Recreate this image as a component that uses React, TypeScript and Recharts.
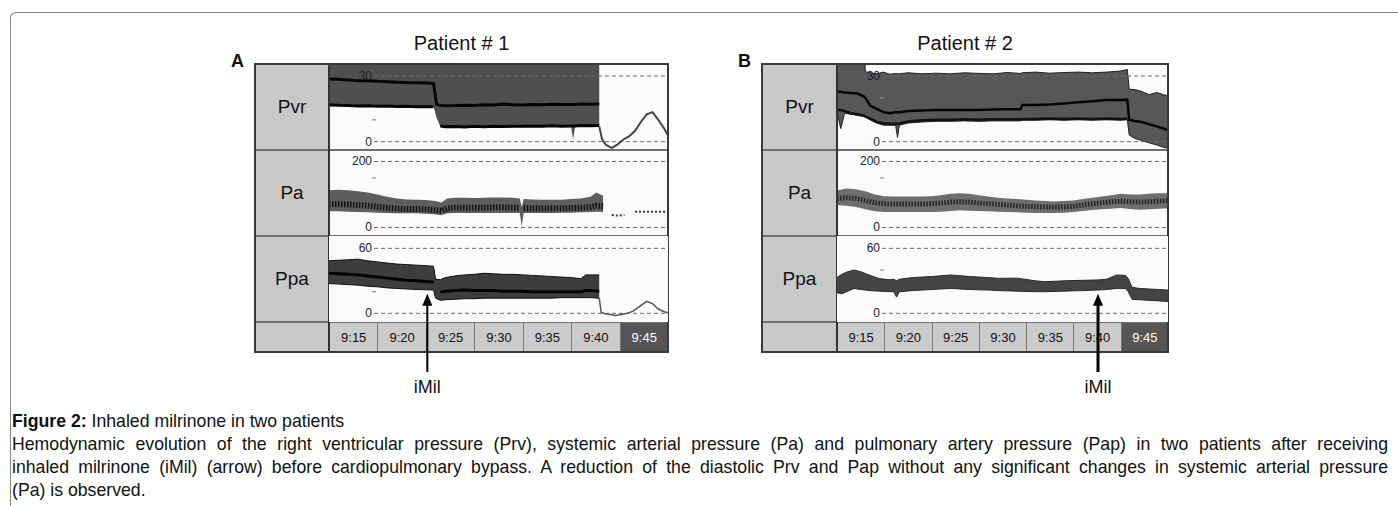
import React from 'react';
import { ComposedChart, Area, Line, XAxis, YAxis, ReferenceLine } from 'recharts';

const timeLabels = ['9:15', '9:20', '9:25', '9:30', '9:35', '9:40', '9:45'];
const channelNames = ['Pvr', 'Pa', 'Ppa'];

// axis ranges (mmHg) and tick values: [0, minor dash, top]
const pvrDomain = [-3.8, 35.5];
const paDomain = [-25.8, 234.8];
const ppaDomain = [-8, 71.4];
const pvrTicksA = [0, 10, 30];
const pvrTicksB = [0, 20, 30];
const paTicks = [0, 150, 200];
const ppaTicksA = [0, 20, 60];
const ppaTicksB = [0, 40, 60];

// minutes from start of the 9:15 block
const iMilA = 10.15;
const iMilB = 27.6;

// ---------- Patient 1 ----------
const p1PvrT = [0, 1, 2, 3, 4, 5, 6, 7, 8, 9, 10, 10.8, 11.1, 11.5, 12, 13, 14, 15, 16, 17, 18, 19, 20, 21, 22, 23, 24, 25, 25.2, 25.4, 26, 27, 27.9, 28.2, 28.6, 29.2, 29.8, 30.4, 31, 31.6, 32.2, 32.8, 33.4, 34, 34.6, 35];
const N13 = [null, null, null, null, null, null, null, null, null, null, null, null, null];
const p1PvrTop = [40, 40, 40, 40, 40, 40, 40, 40, 40, 40, 40, 40, 40, 40, 40, 40, 40, 40, 40, 40, 40, 40, 40, 40, 40, 40, 40, 40, 40, 40, 40, 40, 40, ...N13];
const p1PvrBottom = [16.8, 16.6, 16.5, 16.3, 16.4, 16.2, 16.3, 16.1, 16.2, 16.0, 16.1, 16.0, 11, 6.8, 6.3, 6.5, 6.3, 6.6, 6.4, 6.7, 6.5, 6.7, 6.6, 6.8, 6.6, 6.9, 6.7, 6.8, 1, 6.8, 7, 6.9, 7, ...N13];
const p1PvrSys = [28.6, 28.5, 28.2, 27.9, 27.9, 27.6, 27.4, 27.2, 27.0, 26.9, 26.8, 26.6, 17, 16.6, 16.4, 16.5, 16.7, 16.5, 16.9, 16.8, 17.2, 16.9, 16.8, 17.0, 16.9, 17.1, 17.0, 17.0, 17.0, 17.0, 17.2, 17.1, 17.2, ...N13];
const p1PvrDia = [16.8, 16.6, 16.5, 16.3, 16.4, 16.2, 16.3, 16.1, 16.2, 16.0, 16.1, 16.0, null, 7.2, 6.8, 6.9, 6.7, 7.0, 6.8, 7.1, 6.9, 7.1, 7.0, 7.2, 7.0, 7.3, 7.1, 7.2, 7.2, 7.2, 7.4, 7.3, 7.4, ...N13];
const p1PvrTail = [null, null, null, null, null, null, null, null, null, null, null, null, null, null, null, null, null, null, null, null, null, null, null, null, null, null, null, null, null, null, null, null, 7, 1, -1.5, -2.8, -1.2, 1, 2.5, 5, 9, 12.5, 13.5, 10, 6, 3];

const p1PaT = [0, 1, 2, 3, 4, 5, 6, 7, 8, 9, 10, 11, 11.6, 12.2, 13, 14, 15, 16, 17, 18, 19, 19.7, 19.9, 20.1, 21, 22, 23, 24, 25, 26, 27, 27.6, 28.3, 28.5, 29.2, 29.8, 30.5, 31, 31.6, 32.5, 33.5, 34.5, 35];
const N10 = [null, null, null, null, null, null, null, null, null, null];
const p1PaTop = [113, 114, 113, 110, 106, 100, 93, 88, 85, 84, 83, 80, 76, 88, 90, 90, 89, 90, 91, 91, 90, 88, 62, 86, 85, 84, 84, 84, 86, 88, 93, 106, 96, ...N10];
const p1PaBottom = [49, 49, 48, 47, 46, 45, 44, 43, 43, 43, 42, 40, 37, 43, 44, 44, 44, 44, 44, 44, 44, 44, 4, 44, 44, 44, 44, 45, 45, 46, 47, 48, 47, ...N10];
const p1PaMid = [70, 71, 70, 68, 66, 63, 60, 57, 56, 56, 55, 53, 50, 58, 60, 60, 60, 60, 61, 61, 60, 59, null, 58, 58, 58, 58, 58, 59, 60, 62, 66, 64, ...N10];
const p1PaTail = [null, null, null, null, null, null, null, null, null, null, null, null, null, null, null, null, null, null, null, null, null, null, null, null, null, null, null, null, null, null, null, null, null, null, 38, 36, 38, null, 48, 48, 48, 48, 48];

const p1PpaT = [0, 1, 2, 3, 4, 5, 6, 7, 8, 9, 10, 10.8, 11.0, 11.5, 12, 13, 14, 15, 16, 17, 18, 19, 20, 21, 22, 23, 24, 25, 26, 26.5, 27, 27.9, 28.1, 28.5, 29, 29.6, 30.2, 30.8, 31.4, 32, 32.8, 33.4, 34, 34.6, 35];
const p1PpaTop = [48.5, 49, 49.5, 50, 48.5, 47.5, 46.5, 45.5, 45, 44.5, 44, 43.5, 31.5, 31, 33, 34.5, 35.5, 36, 37, 36.5, 36, 36, 35.5, 35, 34.5, 34, 33.5, 33, 32, 35.5, 35.5, 35.5, ...N13];
const p1PpaBottom = [27.5, 27, 26.5, 26, 25, 24.5, 23.5, 23, 22.5, 22, 21.8, 21.5, 14, 12, 12.5, 13, 13.5, 13.5, 14, 14, 14, 14, 14, 14, 14, 14, 14.5, 14.5, 14.5, 14.5, 14.5, 14, ...N13];
const p1PpaMid = [37, 36.5, 36, 35.5, 34.5, 33.5, 32.5, 31.5, 30.5, 30, 29.5, 29, null, 19.5, 20.5, 21, 21.5, 21, 21, 21, 20.5, 20.5, 20.5, 20, 20, 20, 20, 20, 20, 21, 21, 20.5, ...N13];
const p1PpaTail = [null, null, null, null, null, null, null, null, null, null, null, null, null, null, null, null, null, null, null, null, null, null, null, null, null, null, null, null, null, null, null, 14, 1, -0.5, -1, -2, -1, 0, 2, 6, 11, 9, 4, 1.5, 0.5];

// ---------- Patient 2 ----------
const p2PvrT = [0, 0.4, 0.8, 1.5, 2.2, 2.9, 3.0, 3.5, 4.2, 4.9, 5.6, 6.2, 6.4, 6.6, 7.5, 9, 10.5, 12, 13.5, 15, 16.5, 18, 19.4, 19.6, 21, 22.5, 24, 25.5, 27, 28.5, 30, 30.7, 30.9, 31.5, 32.2, 33, 33.8, 34.5, 35];
const p2PvrTop = [40, 40, 40, 40, 40, 40, 32, 31.5, 31, 31.8, 30.8, 31.2, 31, 31, 31.5, 31, 31.3, 31, 31.5, 31.2, 31, 31.6, 31.2, 31.5, 31.8, 31.3, 31.6, 31.8, 31.5, 31.8, 32.3, 33, 24, 23.8, 23, 21.5, 22.5, 21.5, 21];
const p2PvrBottom = [13.5, 6, 13, 12.5, 12, 11.5, 11.3, 10, 8.5, 7.5, 7.5, 7.5, 2, 7.5, 8.5, 9, 9.3, 9.3, 9.5, 9.3, 9.5, 9.5, 9.5, 9.8, 9.8, 10, 9.8, 10, 9.8, 10, 9.8, 10, 3, 1.5, 0.5, -0.5, -1.5, -2.5, -3];
const p2PvrSys = [22.8, 22.8, 22.5, 22.2, 22, 20.5, 20, 16.5, 15, 13.5, 13, 13.5, 13.5, 13.5, 14, 14.3, 14.5, 14.5, 14.5, 14.5, 14.7, 14.8, 14.8, 16.8, 16.8, 17, 17.5, 18, 18.5, 19, 19, 19.2, 10, 9.5, 9, 8, 7, 6, 5.3];
const p2PvrDia = [14.5, 14.5, 14, 13, 12.5, 11.8, 11.5, 10.5, 9, 8.4, 8.2, 8.2, 8.2, 8.3, 9.2, 9.8, 10, 10, 10.2, 10, 10.2, 10.2, 10.2, 10.4, 10.4, 10.6, 10.4, 10.6, 10.4, 10.6, 10.4, 10.6, null, null, null, null, null, null, null];

const p2PaT = [0, 1, 2, 3, 4, 5, 6, 7, 8, 9, 10, 11, 12, 13, 14, 15, 16, 17, 18, 19, 20, 21, 22, 23, 24, 25, 26, 27, 28, 29, 30, 31, 32, 33, 34, 35];
const p2PaTop = [112, 118, 116, 110, 100, 95, 94, 94, 94, 94, 95, 98, 102, 104, 102, 98, 94, 90, 88, 86, 84, 82, 80, 79, 80, 82, 86, 90, 94, 98, 102, 100, 100, 102, 104, 104];
const p2PaBottom = [68, 66, 62, 55, 49, 47, 47, 47, 47, 47, 47, 48, 50, 52, 51, 50, 49, 48, 47, 46, 45, 44, 44, 44, 45, 47, 50, 53, 55, 57, 59, 56, 54, 55, 57, 58];
const p2PaMid = [88, 90, 88, 82, 75, 72, 71, 71, 71, 71, 72, 74, 77, 78, 77, 74, 72, 70, 68, 66, 64, 63, 62, 62, 62, 64, 68, 72, 75, 78, 80, 78, 77, 78, 80, 81];

const p2PpaT = [0, 0.5, 1, 1.8, 2.5, 3.5, 4.5, 5.6, 6, 6.3, 6.6, 8, 10, 12, 14, 16, 17, 19, 21, 22, 24, 26, 27.5, 28.5, 29.6, 30.5, 30.8, 31.2, 32, 33, 34, 35];
const p2PpaTop = [33, 36, 38, 40, 38.5, 35, 32, 31, 31.5, 30, 31.5, 33, 34, 35.4, 34, 33, 32.3, 32.5, 30, 29.2, 30, 30.5, 30.8, 31.5, 35.4, 35, 32, 24, 23, 22.5, 22, 21.5];
const p2PpaBottom = [19, 18, 20, 23, 22, 21, 20.5, 20, 20, 15, 20, 21, 22, 23, 22, 21.5, 21, 20.5, 20, 20, 20.5, 21, 21.5, 22, 23, 23, 20, 13, 12.5, 12, 11.5, 11];

type Col = (number | null)[];
function buildRows(t: number[], cols: Record<string, Col>) {
  return t.map((tv, i) => {
    const r: any = { t: tv };
    Object.keys(cols).forEach((k) => { r[k] = cols[k][i] ?? null; });
    return r;
  });
}

const FONT = "'Liberation Sans', Arial, sans-serif";

// dashed guide line, starting after the value label
const DashedGrid = (p: any) => (
  <line x1={p.x1 + 45} y1={p.y1} x2={p.x2} y2={p.y2} stroke="#6a6a6a" strokeWidth={1} strokeDasharray="4 3" />
);

const makeValueLabel = (text: string) => (p: any) => (
  <text x={p.x1 + 43} y={p.y1} textAnchor="end" dominantBaseline="central" fontSize={12} fontFamily={FONT} fill="#222">{text}</text>
);

const MinorTick = (p: any) => (
  <line x1={p.x1 + 43} y1={p.y1} x2={p.x1 + 47} y2={p.y1} stroke="#8a8a8a" strokeWidth={1.2} />
);

const makeArrow = (w: number) => (p: any) => {
  const x = p.x1;
  const top = Math.min(p.y1, p.y2);
  const bottom = Math.max(p.y1, p.y2);
  return (
    <g>
      <line x1={x} y1={top + 9} x2={x} y2={bottom} stroke="#000" strokeWidth={w} />
      <polygon points={`${x},${top} ${x - 5},${top + 12} ${x + 5},${top + 12}`} fill="#000" />
      <text x={x} y={bottom + 15} textAnchor="middle" dominantBaseline="central" fontSize={18} fontFamily={FONT} fill="#111">iMil</text>
    </g>
  );
};

interface LineSpec { key: string; color: string; width: number; dash?: string }
interface RowSpec {
  data: any[];
  domain: number[];
  ticks: number[];
  bandFill: string;
  bandStroke?: string;
  lines: LineSpec[];
}

function Strip({ row, width, arrowAt, arrowW }: { row: RowSpec; width: number; arrowAt?: number; arrowW?: number }) {
  const [lo, mid, hi] = row.ticks;
  return (
    <ComposedChart width={width} height={86} data={row.data} margin={{ top: 0, right: 0, bottom: 0, left: 0 }}>
      <XAxis dataKey="t" type="number" domain={[0, 35]} hide allowDataOverflow />
      <YAxis type="number" domain={row.domain} allowDataOverflow hide />
      <ReferenceLine y={lo} shape={DashedGrid} />
      <ReferenceLine y={hi} shape={DashedGrid} />
      <Area
        type="linear"
        dataKey={(d: any) => (d.hi == null || d.lo == null ? null : [d.lo, d.hi])}
        fill={row.bandFill}
        fillOpacity={1}
        stroke={row.bandStroke ?? 'none'}
        strokeWidth={1}
        isAnimationActive={false}
      />
      {row.lines.map((l) => (
        <Line
          key={l.key}
          type="linear"
          dataKey={l.key}
          stroke={l.color}
          strokeWidth={l.width}
          strokeDasharray={l.dash}
          dot={false}
          activeDot={false}
          isAnimationActive={false}
        />
      ))}
      <ReferenceLine y={hi} shape={makeValueLabel(String(hi))} />
      <ReferenceLine y={mid} shape={MinorTick} />
      <ReferenceLine y={lo} shape={makeValueLabel(String(lo))} />
      {arrowAt != null && (
        <ReferenceLine
          segment={[{ x: arrowAt, y: 18 }, { x: arrowAt, y: -54.2 }]}
          ifOverflow="visible"
          shape={makeArrow(arrowW ?? 2)}
        />
      )}
    </ComposedChart>
  );
}

const rowsA: RowSpec[] = [
  {
    data: buildRows(p1PvrT, { hi: p1PvrTop, lo: p1PvrBottom, sys: p1PvrSys, dia: p1PvrDia, tail: p1PvrTail }),
    domain: pvrDomain, ticks: pvrTicksA, bandFill: '#4f4f4f',
    lines: [
      { key: 'sys', color: '#050505', width: 3 },
      { key: 'dia', color: '#050505', width: 3 },
      { key: 'tail', color: '#444', width: 2 },
    ],
  },
  {
    data: buildRows(p1PaT, { hi: p1PaTop, lo: p1PaBottom, mid: p1PaMid, tail: p1PaTail }),
    domain: paDomain, ticks: paTicks, bandFill: '#5e5e5e',
    lines: [
      { key: 'mid', color: '#111', width: 6, dash: '1.5 1.5' },
      { key: 'tail', color: '#333', width: 2, dash: '2 2' },
    ],
  },
  {
    data: buildRows(p1PpaT, { hi: p1PpaTop, lo: p1PpaBottom, mid: p1PpaMid, tail: p1PpaTail }),
    domain: ppaDomain, ticks: ppaTicksA, bandFill: '#3d3d3d', bandStroke: '#111',
    lines: [
      { key: 'mid', color: '#000', width: 3 },
      { key: 'tail', color: '#555', width: 1.5 },
    ],
  },
];

const rowsB: RowSpec[] = [
  {
    data: buildRows(p2PvrT, { hi: p2PvrTop, lo: p2PvrBottom, sys: p2PvrSys, dia: p2PvrDia }),
    domain: pvrDomain, ticks: pvrTicksB, bandFill: '#575757', bandStroke: '#222',
    lines: [
      { key: 'sys', color: '#050505', width: 2.5 },
      { key: 'dia', color: '#111', width: 2.5 },
    ],
  },
  {
    data: buildRows(p2PaT, { hi: p2PaTop, lo: p2PaBottom, mid: p2PaMid }),
    domain: paDomain, ticks: paTicks, bandFill: '#6e6e6e',
    lines: [{ key: 'mid', color: '#222', width: 5, dash: '1.5 1.5' }],
  },
  {
    data: buildRows(p2PpaT, { hi: p2PpaTop, lo: p2PpaBottom }),
    domain: ppaDomain, ticks: ppaTicksB, bandFill: '#444', bandStroke: '#2a2a2a',
    lines: [],
  },
];

const ROW_H = 86;
const TIME_H = 30;

function Panel({ left, width, labelW, title, letter, rows, arrowAt, arrowW }: any) {
  const plotW = width - labelW;
  const cellW = plotW / timeLabels.length;
  const boxH = ROW_H * 3 + TIME_H;
  return (
    <>
      <div style={{ position: 'absolute', left, width, top: 33, textAlign: 'center', fontFamily: FONT, fontSize: 20, lineHeight: '20px', color: '#111' }}>{title}</div>
      <div style={{ position: 'absolute', left: left - 24, top: 52, fontFamily: FONT, fontWeight: 'bold', fontSize: 18, lineHeight: '18px', color: '#111' }}>{letter}</div>
      <div style={{ position: 'absolute', left, top: 64, width, height: boxH }}>
        {channelNames.map((n, i) => (
          <div key={n} style={{ position: 'absolute', left: 0, top: i * ROW_H, width: labelW, height: ROW_H, background: '#c8c8c8', display: 'flex', alignItems: 'center', justifyContent: 'center', fontFamily: FONT, fontSize: 19, color: '#111' }}>{n}</div>
        ))}
        {rows.map((r: RowSpec, i: number) => (
          <div key={i} style={{ position: 'absolute', left: labelW, top: i * ROW_H, width: plotW, height: ROW_H, background: '#fbfbfb', zIndex: i === 2 ? 5 : 1 }}>
            <Strip row={r} width={plotW} arrowAt={i === 2 ? arrowAt : undefined} arrowW={arrowW} />
          </div>
        ))}
        <div style={{ position: 'absolute', left: 0, top: ROW_H * 3, width: labelW, height: TIME_H, background: '#c8c8c8' }} />
        {timeLabels.map((t, i) => {
          const last = i === timeLabels.length - 1;
          return (
            <div key={t} style={{ position: 'absolute', left: labelW + i * cellW, top: ROW_H * 3, width: cellW, height: TIME_H, boxSizing: 'border-box', borderLeft: '1px solid #777', background: last ? '#555' : '#cbcbcb', color: last ? '#fff' : '#111', display: 'flex', alignItems: 'center', justifyContent: 'center', fontFamily: FONT, fontSize: 13 }}>{t}</div>
          );
        })}
        {[1, 2, 3].map((k) => (
          <div key={k} style={{ position: 'absolute', left: 0, top: k * ROW_H - 1, width, height: 2, background: '#6f6f6f', zIndex: 3 }} />
        ))}
        <div style={{ position: 'absolute', left: labelW - 1, top: 0, width: 2, height: boxH, background: '#333', zIndex: 3 }} />
        <div style={{ position: 'absolute', left: -1, top: -1, width: width + 2, height: boxH + 2, boxSizing: 'border-box', border: '2px solid #3a3a3a', zIndex: 3 }} />
      </div>
    </>
  );
}

const captionLines = [
  'Hemodynamic evolution of the right ventricular pressure (Prv), systemic arterial pressure (Pa) and pulmonary artery pressure (Pap) in two patients after receiving',
  'inhaled milrinone (iMil) (arrow) before cardiopulmonary bypass. A reduction of the diastolic Prv and Pap without any significant changes in systemic arterial pressure',
  '(Pa) is observed.',
];

const SQUEEZE = 0.93;
const CAPTION_W = 1376;

export default function App() {
  const lineStyle: React.CSSProperties = { width: CAPTION_W / SQUEEZE, transform: `scaleX(${SQUEEZE})`, transformOrigin: '0 0', whiteSpace: 'nowrap' };
  return (
    <div style={{ position: 'absolute', left: 0, top: 0, width: 1398, height: 506, background: '#fff', overflow: 'hidden' }}>
      <style>{'.recharts-wrapper, .recharts-surface { overflow: visible !important; }'}</style>
      <div style={{ position: 'absolute', left: 10, top: 12, width: 1400, height: 520, borderTop: '1px solid #8a8a8a', borderLeft: '1px solid #8a8a8a', borderTopLeftRadius: 6 }} />
      <Panel left={255} width={413} labelW={74} title="Patient # 1" letter="A" rows={rowsA} arrowAt={iMilA} arrowW={2} />
      <Panel left={762} width={406} labelW={75} title="Patient # 2" letter="B" rows={rowsB} arrowAt={iMilB} arrowW={3} />
      <div style={{ position: 'absolute', left: 12, top: 409, width: CAPTION_W, fontFamily: FONT, fontSize: 19, lineHeight: '23px', color: '#111' }}>
        <div style={lineStyle}><b>Figure 2:</b> Inhaled milrinone in two patients</div>
        {captionLines.map((l, i) => (
          <div key={i} style={{ ...lineStyle, whiteSpace: 'normal', textAlign: 'justify', textAlignLast: i < captionLines.length - 1 ? 'justify' : 'left' }}>{l}</div>
        ))}
      </div>
    </div>
  );
}
